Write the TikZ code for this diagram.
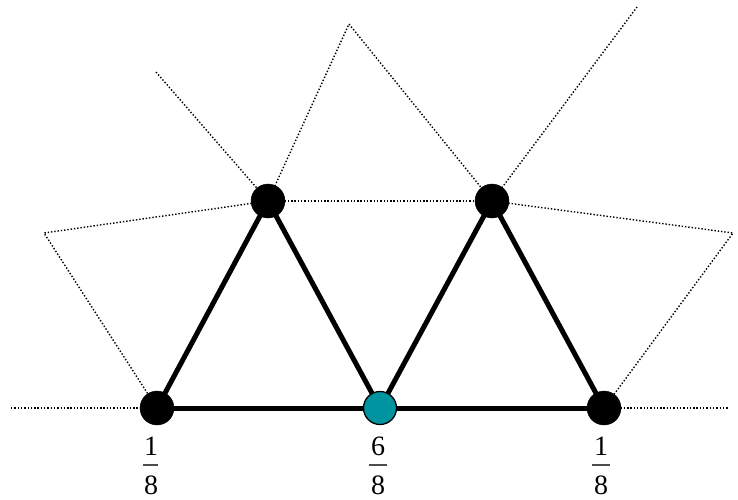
\documentclass[tikz,border=0pt]{standalone}
\usepackage{fontspec}
\setmainfont{Liberation Serif}
\definecolor{tealnode}{RGB}{0,147,160}
\begin{document}
\begin{tikzpicture}[x=1pt,y=-1pt,
  vtx/.style={circle,fill=black,draw=black,minimum size=34pt,inner sep=0pt},
  cvtx/.style={circle,fill=tealnode,draw=black,line width=1.3pt,minimum size=33pt,inner sep=0pt},
  edge/.style={line width=5pt},
  faint/.style={line width=1.4pt,dash pattern=on 1.4pt off 1.9pt},
  num/.style={font=\fontsize{28}{32}\selectfont,inner sep=0pt},
  fracbar/.style={line width=1.1pt,draw=black!70}]
\useasboundingbox (0,0) rectangle (738,499);
% outer points
\coordinate (L) at (11,408);
\coordinate (R) at (729,408);
\coordinate (TL) at (156,72);
\coordinate (P) at (349,24);
\coordinate (TR) at (637,7);
\coordinate (LC) at (44,233);
\coordinate (RC) at (733,233);
% vertex positions
\coordinate (a) at (157,408);
\coordinate (b) at (380,408);
\coordinate (c) at (604,408);
\coordinate (d) at (268,201);
\coordinate (e) at (492,201);
% dotted lines
\draw[faint] (L) -- (a);
\draw[faint] (c) -- (R);
\draw[faint] (TL) -- (d);
\draw[faint] (d) -- (P) -- (e);
\draw[faint] (e) -- (TR);
\draw[faint] (d) -- (LC) -- (a);
\draw[faint] (e) -- (RC) -- (c);
\draw[faint] (d) -- (e);
% solid edges
\draw[edge] (a) -- (b) -- (c);
\draw[edge] (a) -- (d) -- (b) -- (e) -- (c);
% nodes
\node[vtx] (A) at (a) {};
\node[cvtx] (B) at (b) {};
\node[vtx] (C) at (c) {};
\node[vtx] (D) at (d) {};
\node[vtx] (E) at (e) {};
% labels
\node[num] (A1) at (151,446) {1};
\node[num] (A8) at (151,485) {8};
\draw[fracbar] (143,465) -- (158,465);
\node[num] (B6) at (378,446) {6};
\node[num] (B8) at (378,485) {8};
\draw[fracbar] (369,465) -- (387,465);
\node[num] (C1) at (601,446) {1};
\node[num] (C8) at (601,485) {8};
\draw[fracbar] (592,465) -- (610,465);
\end{tikzpicture}
\end{document}
